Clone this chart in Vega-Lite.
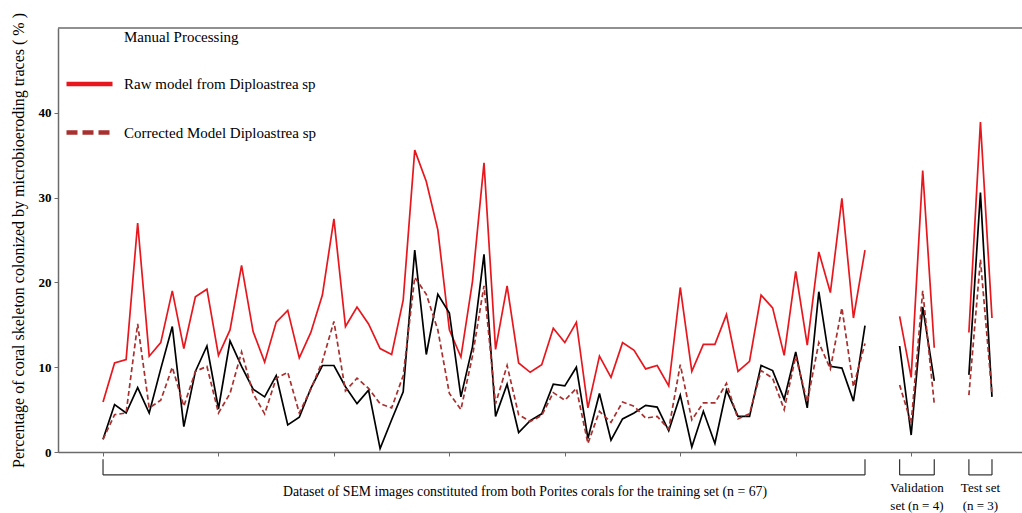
{
  "$schema": "https://vega.github.io/schema/vega-lite/v6.json",
  "width": 964,
  "height": 424,
  "autosize": {"type": "none"},
  "padding": {"left": 58, "top": 28, "right": 0, "bottom": 61},
  "background": "white",
  "config": {"view": {"stroke": null}, "font": "Liberation Serif"},
  "datasets": {
    "values": [
      {"i": 0, "set": "Training", "manual": 1.5, "raw": 5.9, "corrected": 1.5},
      {"i": 1, "set": "Training", "manual": 5.6, "raw": 10.5, "corrected": 4.4},
      {"i": 2, "set": "Training", "manual": 4.6, "raw": 10.9, "corrected": 4.6},
      {"i": 3, "set": "Training", "manual": 7.6, "raw": 27.0, "corrected": 15.1},
      {"i": 4, "set": "Training", "manual": 4.6, "raw": 11.3, "corrected": 5.2},
      {"i": 5, "set": "Training", "manual": 9.8, "raw": 12.9, "corrected": 6.1},
      {"i": 6, "set": "Training", "manual": 14.8, "raw": 19.0, "corrected": 10.0},
      {"i": 7, "set": "Training", "manual": 3.0, "raw": 12.2, "corrected": 5.4},
      {"i": 8, "set": "Training", "manual": 9.5, "raw": 18.3, "corrected": 9.5},
      {"i": 9, "set": "Training", "manual": 12.5, "raw": 19.2, "corrected": 10.1},
      {"i": 10, "set": "Training", "manual": 5.1, "raw": 11.4, "corrected": 4.6},
      {"i": 11, "set": "Training", "manual": 13.1, "raw": 14.4, "corrected": 6.9},
      {"i": 12, "set": "Training", "manual": 10.1, "raw": 22.0, "corrected": 11.8},
      {"i": 13, "set": "Training", "manual": 7.4, "raw": 14.2, "corrected": 6.9},
      {"i": 14, "set": "Training", "manual": 6.5, "raw": 10.6, "corrected": 4.5},
      {"i": 15, "set": "Training", "manual": 9.0, "raw": 15.3, "corrected": 8.7},
      {"i": 16, "set": "Training", "manual": 3.2, "raw": 16.7, "corrected": 9.4},
      {"i": 17, "set": "Training", "manual": 4.1, "raw": 11.1, "corrected": 4.6},
      {"i": 18, "set": "Training", "manual": 7.5, "raw": 14.1, "corrected": 7.4},
      {"i": 19, "set": "Training", "manual": 10.2, "raw": 18.5, "corrected": 10.7},
      {"i": 20, "set": "Training", "manual": 10.2, "raw": 27.5, "corrected": 15.4},
      {"i": 21, "set": "Training", "manual": 7.7, "raw": 14.8, "corrected": 7.2},
      {"i": 22, "set": "Training", "manual": 5.7, "raw": 17.1, "corrected": 8.7},
      {"i": 23, "set": "Training", "manual": 7.3, "raw": 15.1, "corrected": 7.5},
      {"i": 24, "set": "Training", "manual": 0.4, "raw": 12.2, "corrected": 5.7},
      {"i": 25, "set": "Training", "manual": 3.8, "raw": 11.5, "corrected": 5.2},
      {"i": 26, "set": "Training", "manual": 7.1, "raw": 17.9, "corrected": 9.0},
      {"i": 27, "set": "Training", "manual": 23.8, "raw": 35.6, "corrected": 20.6},
      {"i": 28, "set": "Training", "manual": 11.5, "raw": 31.9, "corrected": 18.6},
      {"i": 29, "set": "Training", "manual": 18.6, "raw": 26.2, "corrected": 14.4},
      {"i": 30, "set": "Training", "manual": 16.4, "raw": 14.4, "corrected": 6.9},
      {"i": 31, "set": "Training", "manual": 6.5, "raw": 11.2, "corrected": 5.0},
      {"i": 32, "set": "Training", "manual": 12.4, "raw": 20.1, "corrected": 11.3},
      {"i": 33, "set": "Training", "manual": 23.3, "raw": 34.1, "corrected": 19.6},
      {"i": 34, "set": "Training", "manual": 4.2, "raw": 12.1, "corrected": 5.7},
      {"i": 35, "set": "Training", "manual": 8.0, "raw": 19.6, "corrected": 10.2},
      {"i": 36, "set": "Training", "manual": 2.3, "raw": 10.5, "corrected": 4.4},
      {"i": 37, "set": "Training", "manual": 3.7, "raw": 9.4, "corrected": 3.6},
      {"i": 38, "set": "Training", "manual": 4.5, "raw": 10.3, "corrected": 4.3},
      {"i": 39, "set": "Training", "manual": 8.0, "raw": 14.6, "corrected": 7.0},
      {"i": 40, "set": "Training", "manual": 7.8, "raw": 12.9, "corrected": 6.1},
      {"i": 41, "set": "Training", "manual": 10.0, "raw": 15.3, "corrected": 7.5},
      {"i": 42, "set": "Training", "manual": 1.6, "raw": 5.2, "corrected": 1.0},
      {"i": 43, "set": "Training", "manual": 6.9, "raw": 11.3, "corrected": 4.8},
      {"i": 44, "set": "Training", "manual": 1.4, "raw": 8.8, "corrected": 3.5},
      {"i": 45, "set": "Training", "manual": 3.9, "raw": 12.9, "corrected": 5.9},
      {"i": 46, "set": "Training", "manual": 4.6, "raw": 12.0, "corrected": 5.4},
      {"i": 47, "set": "Training", "manual": 5.5, "raw": 9.8, "corrected": 4.0},
      {"i": 48, "set": "Training", "manual": 5.3, "raw": 10.2, "corrected": 4.2},
      {"i": 49, "set": "Training", "manual": 2.5, "raw": 7.8, "corrected": 2.7},
      {"i": 50, "set": "Training", "manual": 6.7, "raw": 19.4, "corrected": 10.3},
      {"i": 51, "set": "Training", "manual": 0.6, "raw": 9.5, "corrected": 3.8},
      {"i": 52, "set": "Training", "manual": 4.8, "raw": 12.7, "corrected": 5.8},
      {"i": 53, "set": "Training", "manual": 1.0, "raw": 12.7, "corrected": 5.8},
      {"i": 54, "set": "Training", "manual": 7.3, "raw": 16.2, "corrected": 8.1},
      {"i": 55, "set": "Training", "manual": 4.2, "raw": 9.5, "corrected": 3.9},
      {"i": 56, "set": "Training", "manual": 4.2, "raw": 10.7, "corrected": 4.5},
      {"i": 57, "set": "Training", "manual": 10.2, "raw": 18.5, "corrected": 9.6},
      {"i": 58, "set": "Training", "manual": 9.6, "raw": 17.0, "corrected": 8.7},
      {"i": 59, "set": "Training", "manual": 6.2, "raw": 11.4, "corrected": 5.0},
      {"i": 60, "set": "Training", "manual": 11.8, "raw": 21.3, "corrected": 11.3},
      {"i": 61, "set": "Training", "manual": 5.2, "raw": 12.6, "corrected": 5.9},
      {"i": 62, "set": "Training", "manual": 18.9, "raw": 23.6, "corrected": 12.9},
      {"i": 63, "set": "Training", "manual": 10.1, "raw": 18.8, "corrected": 9.8},
      {"i": 64, "set": "Training", "manual": 9.9, "raw": 29.9, "corrected": 17.0},
      {"i": 65, "set": "Training", "manual": 6.0, "raw": 15.8, "corrected": 7.7},
      {"i": 66, "set": "Training", "manual": 14.9, "raw": 23.8, "corrected": 12.8},
      {"i": 69, "set": "Validation", "manual": 12.5, "raw": 16.0, "corrected": 7.9},
      {"i": 70, "set": "Validation", "manual": 2.0, "raw": 8.8, "corrected": 3.4},
      {"i": 71, "set": "Validation", "manual": 17.1, "raw": 33.2, "corrected": 19.0},
      {"i": 72, "set": "Validation", "manual": 8.4, "raw": 12.3, "corrected": 5.7},
      {"i": 75, "set": "Test", "manual": 9.1, "raw": 14.1, "corrected": 6.7},
      {"i": 76, "set": "Test", "manual": 30.6, "raw": 38.9, "corrected": 22.7},
      {"i": 77, "set": "Test", "manual": 6.5, "raw": 15.8, "corrected": 6.8}
    ],
    "groups": [
      {"set": "Training", "label": "Dataset of SEM images constituted from both Porites corals for the training set (n = 67)"},
      {"set": "Validation", "label": "Validation\nset (n = 4)"},
      {"set": "Test", "label": "Test set\n(n = 3)"}
    ]
  },
  "data": {"name": "values"},
  "layer": [
    {
      "data": {"values": [{}]},
      "mark": {"type": "rule", "color": "#6b6b6b", "strokeWidth": 1.5},
      "encoding": {"y": {"datum": 50, "type": "quantitative"}}
    },
    {
      "transform": [
        {"fold": ["raw", "manual"], "as": ["series", "pct"]}
      ],
      "mark": {"type": "line", "strokeWidth": 1.7},
      "encoding": {
        "x": {
          "field": "i", "type": "quantitative",
          "scale": {"domain": [-3.9, 79.6], "nice": false, "zero": false},
          "axis": {"values": [0, 10, 20, 30, 40, 50, 60, 70], "labels": false, "tickSize": 4, "tickColor": "#6b6b6b", "domainColor": "#6b6b6b", "domainWidth": 1.5, "grid": false, "title": null}
        },
        "y": {
          "field": "pct", "type": "quantitative",
          "scale": {"domain": [0, 50], "nice": false},
          "axis": {
            "values": [0, 10, 20, 30, 40], "grid": false, "tickSize": 4, "tickColor": "#6b6b6b",
            "domainColor": "#6b6b6b", "domainWidth": 1.5,
            "labelFont": "Liberation Serif", "labelFontWeight": "bold", "labelFontSize": 13, "labelColor": "#000", "labelPadding": 3,
            "title": "Percentage of coral skeleton colonized by microbioeroding traces ( % )",
            "titleFont": "Liberation Serif", "titleFontSize": 16, "titleFontWeight": "normal", "titleColor": "#000", "titlePadding": 12
          }
        },
        "color": {
          "field": "series", "type": "nominal",
          "scale": {"domain": ["manual", "raw", "corrected"], "range": ["#000000", "#e8171e", "#a8302f"]},
          "legend": {
            "orient": "none", "legendX": 6, "legendY": -17, "title": null, "padding": 0,
            "symbolType": "stroke", "symbolSize": 2116, "symbolStrokeWidth": 4.5,
            "labelFont": "Liberation Serif", "labelFontSize": 15, "labelColor": "#000", "labelOffset": 9, "labelLimit": 400,
            "rowPadding": 13.5,
            "labelExpr": "{'manual': 'Manual Processing', 'raw': 'Raw model from Diploastrea sp', 'corrected': 'Corrected Model Diploastrea sp'}[datum.value]",
            "encode": {
              "symbols": {
                "update": {
                  "strokeDash": {"signal": "datum.value === 'corrected' ? [11, 5] : [1, 0]"},
                  "opacity": {"signal": "datum.value === 'manual' ? 0 : 1"}
                }
              }
            }
          }
        },
        "detail": {"field": "set"}
      }
    },
    {
      "transform": [
        {"fold": ["corrected"], "as": ["series", "pct"]}
      ],
      "mark": {"type": "line", "strokeWidth": 1.7, "strokeDash": [5, 3]},
      "encoding": {
        "x": {"field": "i", "type": "quantitative", "title": null},
        "y": {"field": "pct", "type": "quantitative"},
        "color": {"field": "series", "type": "nominal"},
        "detail": {"field": "set"}
      }
    },
    {
      "transform": [{"aggregate": [{"op": "min", "field": "i", "as": "lo"}, {"op": "max", "field": "i", "as": "hi"}], "groupby": ["set"]}],
      "mark": {"type": "rule", "color": "#333333", "strokeWidth": 1.2},
      "encoding": {
        "x": {"field": "lo", "type": "quantitative", "title": null},
        "x2": {"field": "hi"},
        "y": {"datum": -2.7, "type": "quantitative"}
      }
    },
    {
      "transform": [{"aggregate": [{"op": "min", "field": "i", "as": "lo"}], "groupby": ["set"]}],
      "mark": {"type": "rule", "color": "#333333", "strokeWidth": 1.2},
      "encoding": {
        "x": {"field": "lo", "type": "quantitative", "title": null},
        "y": {"datum": -0.85, "type": "quantitative"},
        "y2": {"datum": -2.7}
      }
    },
    {
      "transform": [{"aggregate": [{"op": "max", "field": "i", "as": "hi"}], "groupby": ["set"]}],
      "mark": {"type": "rule", "color": "#333333", "strokeWidth": 1.2},
      "encoding": {
        "x": {"field": "hi", "type": "quantitative", "title": null},
        "y": {"datum": -0.85, "type": "quantitative"},
        "y2": {"datum": -2.7}
      }
    },
    {
      "transform": [
        {"filter": "datum.set === 'Training'"},
        {"aggregate": [{"op": "mean", "field": "i", "as": "mid"}], "groupby": ["set"]},
        {"lookup": "set", "from": {"data": {"name": "groups"}, "key": "set", "fields": ["label"]}}
      ],
      "mark": {"type": "text", "font": "Liberation Serif", "fontSize": 13.8, "align": "center", "baseline": "top", "dx": 41, "color": "#000"},
      "encoding": {
        "x": {"field": "mid", "type": "quantitative", "title": null},
        "y": {"datum": -3.85, "type": "quantitative"},
        "text": {"field": "label"}
      }
    },
    {
      "transform": [
        {"filter": "datum.set !== 'Training'"},
        {"aggregate": [{"op": "mean", "field": "i", "as": "mid"}], "groupby": ["set"]},
        {"lookup": "set", "from": {"data": {"name": "groups"}, "key": "set", "fields": ["label"]}}
      ],
      "mark": {"type": "text", "font": "Liberation Serif", "fontSize": 13, "align": "center", "baseline": "top", "lineBreak": "\n", "lineHeight": 18, "color": "#000"},
      "encoding": {
        "x": {"field": "mid", "type": "quantitative", "title": null},
        "y": {"datum": -3.55, "type": "quantitative"},
        "text": {"field": "label"}
      }
    }
  ]
}
